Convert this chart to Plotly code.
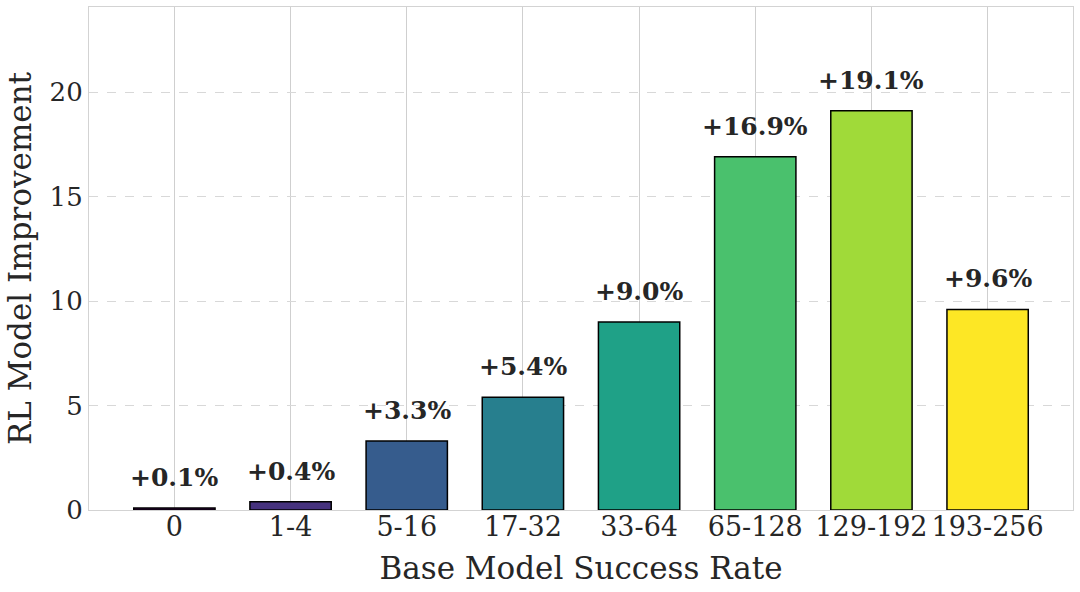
import plotly.graph_objects as go

categories = ["0", "1-4", "5-16", "17-32", "33-64", "65-128", "129-192", "193-256"]
improvement = [0.1, 0.4, 3.3, 5.4, 9.0, 16.9, 19.1, 9.6]
bar_colors = ["#440154", "#46327e", "#365c8d", "#277f8e",
              "#1fa187", "#4ac16d", "#a0da39", "#fde725"]

font_family = "DejaVu Serif"
ink = "#262626"

x = list(range(len(categories)))

fig = go.Figure(go.Bar(
    x=x, y=improvement, width=0.7,
    marker=dict(color=bar_colors, line=dict(color="black", width=1.5)),
    hoverinfo="skip",
))

for xi, v in zip(x, improvement):
    fig.add_annotation(x=xi, y=v, text=f"<b>+{v:.1f}%</b>", showarrow=False,
                       yanchor="bottom", yshift=14,
                       font=dict(family=font_family, size=25, color=ink))

fig.update_layout(
    width=1080, height=592,
    margin=dict(l=89, r=7, t=7, b=82),
    plot_bgcolor="white", paper_bgcolor="white",
    showlegend=False,
    font=dict(family=font_family, color=ink),
)
fig.update_xaxes(
    range=[-0.735, 7.735], tickvals=x, ticktext=categories,
    tickfont=dict(size=27, color=ink), ticklabelstandoff=-8,
    title=dict(text="Base Model Success Rate", font=dict(size=31, color=ink), standoff=16),
    showgrid=True, gridcolor="#cfcfcf", gridwidth=1.2,
    showline=True, linecolor="#d3d3d3", linewidth=1.2, mirror=True,
    ticks="", zeroline=False,
)
fig.update_yaxes(
    range=[0, 24.07], tickvals=[0, 5, 10, 15, 20],
    tickfont=dict(size=26, color=ink),
    title=dict(text="RL Model Improvement", font=dict(size=31, color=ink), standoff=8),
    showgrid=True, gridcolor="#d8d8d8", gridwidth=1.2, griddash="dash",
    showline=True, linecolor="#d3d3d3", linewidth=1.2, mirror=True,
    ticks="", zeroline=False,
)

fig.write_html("out.html", config={"displayModeBar": False},
               post_script="document.body.style.margin='0px';")
